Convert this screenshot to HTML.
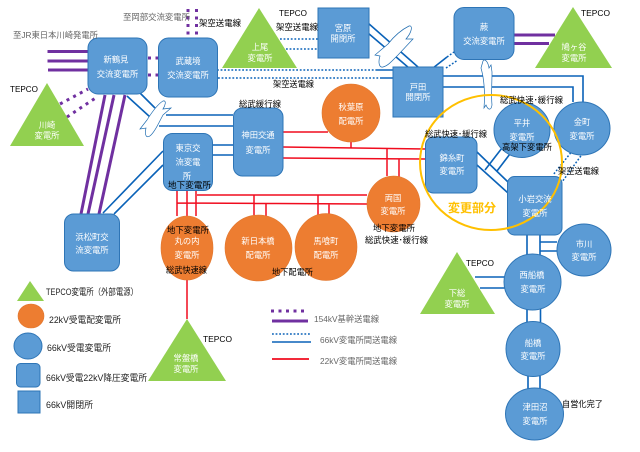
<!DOCTYPE html>
<html lang="ja"><head><meta charset="utf-8"><title>変電所系統図</title>
<style>
html,body{margin:0;padding:0;background:#fff;width:640px;height:452px;overflow:hidden}
svg{display:block}
text{font-family:"Liberation Sans","Noto Sans CJK JP",sans-serif;dominant-baseline:central}
.w{fill:#fff;font-size:8.3px;text-anchor:middle}
.k{fill:#000;font-size:8.5px}
.lg{fill:#222;font-size:9px}
.g{fill:#666;font-size:8.5px}
.n{fill:#5b9bd5;stroke:#2e75b6;stroke-width:1}
.o{fill:#ed7d31;stroke:#e0752c;stroke-width:.6}
.t{fill:#92d050}
.p{stroke:#7030a0;stroke-width:3;fill:none}
.pd{stroke:#7030a0;stroke-width:3;stroke-dasharray:3 4.500;fill:none}
.b{stroke:#0a62b8;stroke-width:1.600;fill:none}
.bd{stroke:#0a62b8;stroke-width:1.500;stroke-dasharray:1.800 1.800;fill:none}
.r{stroke:#f00c1e;stroke-width:1.500;fill:none}
.l{fill:#fff;stroke:#1f6cb0;stroke-width:.7}
</style></head><body>
<svg width="640" height="452" viewBox="0 0 640 452" xmlns="http://www.w3.org/2000/svg">
<!-- purple lines -->
<path class="p" d="M47.5,51.5H88M47.5,61H88M48,70H88M105,95L81,214M114,95L88,214M125,95L99,214M514,35H555M514,43.5H549"/>
<path class="pd" d="M148,58H158M148,75H158M188,9V38M196.5,9V38M60,104L88,89M67,117L97,97"/>
<!-- blue lines -->
<path class="b" d="M127,96L150,117M140,93L155,108M166,115H233M159,126H233M212,145H233M212,155H233M163,151L103,213M163,165L114,214M368,23L418,67M368,33L409,68M433,68L447,57M443,76H583V102M443,87H573V102M477,152L508,182M477,165L508,193M502,148L485,170M513,150L497,171M540,242H557M540,251H557M527,235V255M540,235V255M475,277H505M480,288H505M527,308V322M540.5,308V322M528,376V390M540,376V390M377,70H393M380,78H393"/>
<path class="bd" d="M217,70H377M218,78H380M280,39H318M286,49H318M447,57L454,52M446,68L458,60M573,150L553,175M583,153L562,182"/>
<!-- red lines -->
<path class="r" d="M283,132H328M283,147L425,149M283,158L425,159M351,142V148M387,149V176M399,159V178M177,190V216M187,190V216M196,190V216M197,195H367M177,203L367,204M254,195V215M266,204V216M318,195V215M329,204V216M187,280V319"/>
<!-- lightning -->
<path class="l" d="M163,101C167,100 165,106 163,109L171,108L163,115C158,124 156,130 151,135C147,139 144,136 146,128L140,129L147,120C152,112 158,104 163,101Z"/>
<path class="l" d="M409,26C413,25 412,32 406,39L413,39L398,55C393,60 388,66 383,67C379,68 378,62 380,56L375,55L388,44C395,35 403,29 409,26Z"/>
<path class="l" d="M483,61C484,58 488,61 489,68L491,65L492,72C492,85 491,95 492,105C491,111 488,110 486,105L484,108C485,95 485,82 481,68Z"/>
<!-- triangles -->
<polygon class="t" points="259,8 222,68 297,68"/>
<polygon class="t" points="573,7 535,68 612,68"/>
<polygon class="t" points="47,83 10,146 84,146"/>
<polygon class="t" points="457,252 420,314 495,314"/>
<polygon class="t" points="187,319 148,381 226,381"/>
<polygon class="t" points="30,281 17,301 44,301"/>
<!-- blue nodes -->
<rect class="n" x="88" y="38" width="59" height="56" rx="10"/>
<rect class="n" x="158.500" y="38" width="59" height="59" rx="10"/>
<rect class="n" x="318" y="8" width="51" height="50"/>
<rect class="n" x="454" y="7.500" width="60" height="52" rx="10"/>
<rect class="n" x="393" y="67" width="50" height="50"/>
<rect class="n" x="233.500" y="108" width="49.500" height="68" rx="9"/>
<rect class="n" x="163.500" y="133.500" width="49" height="57" rx="9"/>
<rect class="n" x="64.500" y="214" width="55" height="57" rx="9"/>
<rect class="n" x="425.500" y="137" width="51.500" height="56" rx="8"/>
<rect class="n" x="507.500" y="176.500" width="54.500" height="58.500" rx="7"/>
<ellipse class="n" cx="522" cy="130" rx="28" ry="27.500"/>
<ellipse class="n" cx="582" cy="128.500" rx="28" ry="26.500"/>
<ellipse class="n" cx="584" cy="250" rx="27" ry="26"/>
<ellipse class="n" cx="532.500" cy="282" rx="28.500" ry="28"/>
<ellipse class="n" cx="533" cy="349" rx="27" ry="27.500"/>
<ellipse class="n" cx="534.500" cy="414" rx="29" ry="26"/>
<!-- orange nodes -->
<ellipse class="o" cx="351" cy="113" rx="29" ry="29"/>
<ellipse class="o" cx="187" cy="248" rx="26" ry="32"/>
<ellipse class="o" cx="258.500" cy="248" rx="33.500" ry="33"/>
<ellipse class="o" cx="326" cy="247" rx="31" ry="33.500"/>
<ellipse class="o" cx="393.500" cy="204" rx="26.500" ry="28"/>
<!-- legend shapes -->
<ellipse class="o" cx="31" cy="316" rx="13" ry="12"/>
<ellipse class="n" cx="28" cy="346" rx="14" ry="13"/>
<rect class="n" x="16.500" y="363.500" width="23.500" height="23.500" rx="4"/>
<rect class="n" x="18" y="391" width="22" height="22"/>
<path class="pd" d="M271,311H308"/>
<path class="p" d="M272,321H308"/>
<path class="bd" d="M272,334H311"/>
<path class="b" d="M272,342H311"/>
<path class="r" style="stroke-width:1.8" d="M272,359H309"/>
<!-- yellow ring -->
<ellipse cx="491" cy="162.500" rx="71" ry="67.500" fill="none" stroke="#ffc000" stroke-width="2"/>
<!-- node labels -->
<text class="w" x="116" y="59.500">新鶴見</text><text class="w" x="117.500" y="74">交流変電所</text>
<text class="w" x="188" y="61">武蔵境</text><text class="w" x="188" y="75">交流変電所</text>
<text class="w" x="260" y="47">上尾</text><text class="w" x="260" y="58">変電所</text>
<text class="w" x="343" y="28">宮原</text><text class="w" x="343" y="38.500">開閉所</text>
<text class="w" x="484" y="27">蕨</text><text class="w" x="484" y="41">交流変電所</text>
<text class="w" x="574" y="47">鳩ヶ谷</text><text class="w" x="574" y="58">変電所</text>
<text class="w" x="418" y="87">戸田</text><text class="w" x="418" y="97">開閉所</text>
<text class="w" x="351" y="107">秋葉原</text><text class="w" x="351" y="121">配電所</text>
<text class="w" x="47" y="125">川崎</text><text class="w" x="47" y="135.500">変電所</text>
<text class="w" x="258" y="135">神田交通</text><text class="w" x="258" y="150">変電所</text>
<text class="w" x="188" y="148">東京交</text><text class="w" x="188" y="162">流変電</text><text class="w" x="187" y="176">所</text>
<text class="w" x="92" y="237">浜松町交</text><text class="w" x="92" y="250">流変電所</text>
<text class="w" x="187" y="241">丸の内</text><text class="w" x="187" y="255">変電所</text>
<text class="w" x="258" y="241">新日本橋</text><text class="w" x="258" y="255">配電所</text>
<text class="w" x="326" y="241">馬喰町</text><text class="w" x="326" y="255">配電所</text>
<text class="w" x="393" y="198">両国</text><text class="w" x="393" y="211">変電所</text>
<text class="w" x="452" y="158">錦糸町</text><text class="w" x="452" y="171">変電所</text>
<text class="w" x="522" y="123">平井</text><text class="w" x="522" y="137">変電所</text>
<text class="w" x="582" y="122">金町</text><text class="w" x="582" y="136">変電所</text>
<text class="w" x="535" y="199">小岩交流</text><text class="w" x="535" y="213">変電所</text>
<text class="w" x="584" y="244">市川</text><text class="w" x="584" y="257">変電所</text>
<text class="w" x="532" y="275">西船橋</text><text class="w" x="533" y="289">変電所</text>
<text class="w" x="533" y="343">船橋</text><text class="w" x="533" y="356">変電所</text>
<text class="w" x="535" y="407">津田沼</text><text class="w" x="535" y="421">変電所</text>
<text class="w" x="457" y="293">下総</text><text class="w" x="457" y="304">変電所</text>
<text class="w" x="186" y="358">常盤橋</text><text class="w" x="186" y="369">変電所</text>
<!-- annotations -->
<text class="g" x="13" y="35" textLength="85" lengthAdjust="spacingAndGlyphs">至JR東日本川崎発電所</text>
<text class="g" x="123" y="17" textLength="67" lengthAdjust="spacingAndGlyphs">至岡部交流変電所</text>
<text class="k" x="199" y="23" textLength="42" lengthAdjust="spacingAndGlyphs">架空送電線</text>
<text class="k" x="279" y="13" textLength="28" lengthAdjust="spacingAndGlyphs">TEPCO</text>
<text class="k" x="276" y="27" textLength="42" lengthAdjust="spacingAndGlyphs">架空送電線</text>
<text class="k" x="273" y="84" textLength="41" lengthAdjust="spacingAndGlyphs">架空送電線</text>
<text class="k" x="10" y="89" textLength="28" lengthAdjust="spacingAndGlyphs">TEPCO</text>
<text class="k" x="239" y="104" textLength="42" lengthAdjust="spacingAndGlyphs">総武緩行線</text>
<text class="k" x="581" y="13" textLength="29" lengthAdjust="spacingAndGlyphs">TEPCO</text>
<text class="k" x="500" y="100" textLength="63" lengthAdjust="spacingAndGlyphs">総武快速･緩行線</text>
<text class="k" x="425" y="134" textLength="62" lengthAdjust="spacingAndGlyphs">総武快速･緩行線</text>
<text class="k" x="502" y="147" textLength="50" lengthAdjust="spacingAndGlyphs">高架下変電所</text>
<text class="k" x="558" y="171" textLength="41" lengthAdjust="spacingAndGlyphs">架空送電線</text>
<text class="k" x="168" y="185" textLength="43" lengthAdjust="spacingAndGlyphs">地下変電所</text>
<text class="k" x="167" y="230" textLength="42" lengthAdjust="spacingAndGlyphs">地下変電所</text>
<text class="k" x="166" y="270" textLength="41" lengthAdjust="spacingAndGlyphs">総武快速線</text>
<text class="k" x="272" y="272" textLength="41" lengthAdjust="spacingAndGlyphs">地下配電所</text>
<text class="k" x="373" y="228" textLength="42" lengthAdjust="spacingAndGlyphs">地下変電所</text>
<text class="k" x="365" y="240" textLength="63" lengthAdjust="spacingAndGlyphs">総武快速･緩行線</text>
<text class="k" x="466" y="263" textLength="28" lengthAdjust="spacingAndGlyphs">TEPCO</text>
<text class="k" x="203" y="339" textLength="29" lengthAdjust="spacingAndGlyphs">TEPCO</text>
<text class="k" x="562" y="404" textLength="41" lengthAdjust="spacingAndGlyphs">自営化完了</text>
<text x="448" y="208" fill="#ffc000" font-size="12" font-weight="700" textLength="48" lengthAdjust="spacingAndGlyphs">変更部分</text>
<!-- legend text -->
<text class="lg" x="46" y="292" textLength="92" lengthAdjust="spacingAndGlyphs">TEPCO変電所（外部電源）</text>
<text class="lg" x="49" y="320" textLength="72" lengthAdjust="spacingAndGlyphs">22kV受電配変電所</text>
<text class="lg" x="47" y="348" textLength="64" lengthAdjust="spacingAndGlyphs">66kV受電変電所</text>
<text class="lg" x="46" y="378" textLength="101" lengthAdjust="spacingAndGlyphs">66kV受電22kV降圧変電所</text>
<text class="lg" x="46" y="405" textLength="47" lengthAdjust="spacingAndGlyphs">66kV開閉所</text>
<text class="g" x="314" y="319" textLength="65" lengthAdjust="spacingAndGlyphs">154kV基幹送電線</text>
<text class="g" x="320" y="340" textLength="77" lengthAdjust="spacingAndGlyphs">66kV変電所間送電線</text>
<text class="g" x="320" y="361" textLength="77" lengthAdjust="spacingAndGlyphs">22kV変電所間送電線</text>
</svg>
</body></html>
